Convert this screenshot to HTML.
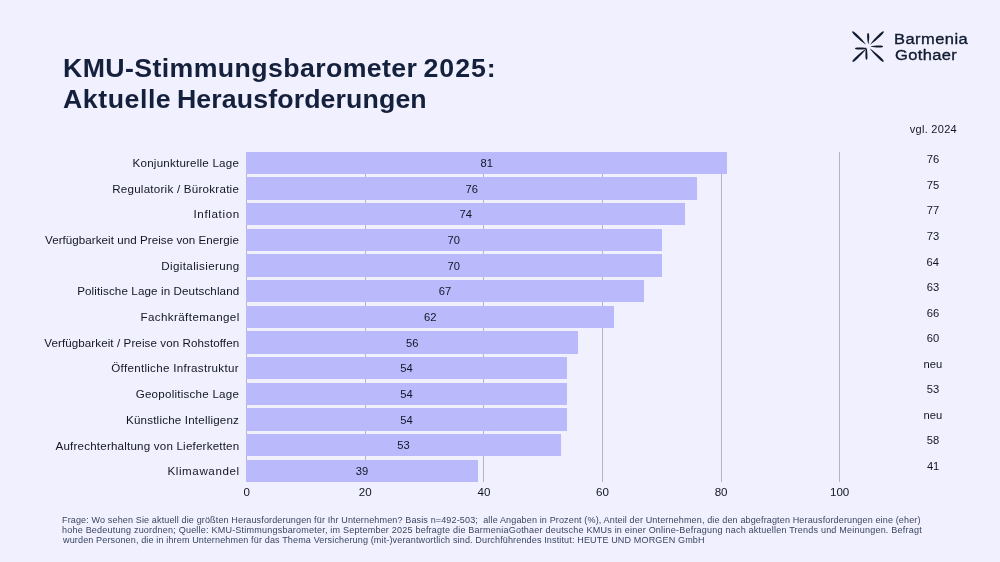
<!DOCTYPE html>
<html lang="de">
<head>
<meta charset="utf-8">
<title>KMU-Stimmungsbarometer 2025: Aktuelle Herausforderungen</title>
<style>
html,body{margin:0;padding:0;}
body{width:1000px;height:562px;background:#f0f0fe;overflow:hidden;position:relative;font-family:"Liberation Sans",Arial,sans-serif;color:#121624;}
.t{position:absolute;white-space:pre;line-height:1;margin:0;padding:0;transform-origin:0 0;}
.bar{position:absolute;background:#b9b9fb;}
.grid{position:absolute;width:1px;background:#b4b4c4;}
svg{position:absolute;overflow:visible;}
</style>
</head>
<body>
<div class="chart">
<div class="grid" style="left:246px;top:151.70px;height:330.20px"></div>
<div class="grid" style="left:365px;top:151.70px;height:330.20px"></div>
<div class="grid" style="left:483px;top:151.70px;height:330.20px"></div>
<div class="grid" style="left:602px;top:151.70px;height:330.20px"></div>
<div class="grid" style="left:721px;top:151.70px;height:330.20px"></div>
<div class="grid" style="left:839px;top:151.70px;height:330.20px"></div>
<div class="bar" style="left:246.30px;top:151.70px;width:480.49px;height:22.40px"></div>
<div class="bar" style="left:246.30px;top:177.35px;width:450.83px;height:22.40px"></div>
<div class="bar" style="left:246.30px;top:203.00px;width:438.97px;height:22.40px"></div>
<div class="bar" style="left:246.30px;top:228.65px;width:415.24px;height:22.40px"></div>
<div class="bar" style="left:246.30px;top:254.30px;width:415.24px;height:22.40px"></div>
<div class="bar" style="left:246.30px;top:279.95px;width:397.44px;height:22.40px"></div>
<div class="bar" style="left:246.30px;top:305.60px;width:367.78px;height:22.40px"></div>
<div class="bar" style="left:246.30px;top:331.25px;width:332.19px;height:22.40px"></div>
<div class="bar" style="left:246.30px;top:356.90px;width:320.33px;height:22.40px"></div>
<div class="bar" style="left:246.30px;top:382.55px;width:320.33px;height:22.40px"></div>
<div class="bar" style="left:246.30px;top:408.20px;width:320.33px;height:22.40px"></div>
<div class="bar" style="left:246.30px;top:433.85px;width:314.40px;height:22.40px"></div>
<div class="bar" style="left:246.30px;top:459.50px;width:231.35px;height:22.40px"></div>
</div>
<svg class="logo-mark" style="left:848px;top:26px" width="40" height="40" viewBox="0 0 40 40" fill="#111b30" aria-label="BarmeniaGothaer">
<path transform="translate(17.90,18.50) rotate(-136.07)" d="M0,-0.15 C4.15,-0.70 7.93,-1.15 12.84,-1.15 C16.62,-1.15 18.88,-0.86 18.88,0 C18.88,0.86 16.62,1.15 12.84,1.15 C7.93,1.15 4.15,0.70 0,0.15 Z"/>
<path transform="translate(22.20,18.50) rotate(-44.14)" d="M0,-0.15 C4.14,-0.70 7.90,-1.15 12.79,-1.15 C16.55,-1.15 18.81,-0.86 18.81,0 C18.81,0.86 16.55,1.15 12.79,1.15 C7.90,1.15 4.14,0.70 0,0.15 Z"/>
<path transform="translate(17.40,23.50) rotate(136.60)" d="M0,-0.30 C3.91,-0.77 7.46,-1.15 12.07,-1.15 C15.62,-1.15 17.76,-0.86 17.76,0 C17.76,0.86 15.62,1.15 12.07,1.15 C7.46,1.15 3.91,0.77 0,0.30 Z"/>
<path transform="translate(22.20,22.80) rotate(43.70)" d="M0,-0.15 C4.11,-0.70 7.84,-1.15 12.70,-1.15 C16.43,-1.15 18.67,-0.86 18.67,0 C18.67,0.86 16.43,1.15 12.70,1.15 C7.84,1.15 4.11,0.70 0,0.15 Z"/>
<path transform="translate(20.30,17.90) rotate(-91.05)" d="M0,-0.15 C2.40,-0.65 4.58,-1.05 7.41,-1.05 C9.59,-1.05 10.90,-0.79 10.90,0 C10.90,0.79 9.59,1.05 7.41,1.05 C4.58,1.05 2.40,0.65 0,0.15 Z"/>
<path transform="translate(22.60,20.45) rotate(0.69)" d="M0,-0.15 C2.75,-0.65 5.25,-1.05 8.50,-1.05 C11.00,-1.05 12.50,-0.79 12.50,0 C12.50,0.79 11.00,1.05 8.50,1.05 C5.25,1.05 2.75,0.65 0,0.15 Z"/>
<path transform="translate(18.30,22.60) rotate(88.98)" d="M0,-0.60 C2.46,-0.82 4.70,-1.00 7.62,-1.00 C9.86,-1.00 11.20,-0.75 11.20,0 C11.20,0.75 9.86,1.00 7.62,1.00 C4.70,1.00 2.46,0.82 0,0.60 Z"/>
<path transform="translate(18.20,22.45) rotate(-179.74)" d="M0,-0.70 C2.46,-0.86 4.70,-1.00 7.62,-1.00 C9.86,-1.00 11.20,-0.75 11.20,0 C11.20,0.75 9.86,1.00 7.62,1.00 C4.70,1.00 2.46,0.86 0,0.70 Z"/>
</svg>
<div class="t title" id="t0" style="font-size:25.7px;left:62.55px;top:55.64px;color:#14203c;font-weight:700;word-spacing:-1.250px;transform:scaleX(1.04);"><span style="letter-spacing:0.373px">KMU-Stimmungsbarometer</span> <span style="letter-spacing:0.938px">2025:</span></div>
<div class="t title" id="t1" style="font-size:25.7px;left:62.55px;top:86.74px;color:#14203c;font-weight:700;word-spacing:-1.731px;transform:scaleX(1.04);"><span style="letter-spacing:0.522px">Aktuelle</span> <span style="letter-spacing:0.114px">Herausforderungen</span></div>
<div class="t logo" id="t2" style="font-size:15.4px;left:893.85px;top:30.86px;color:#111b30;letter-spacing:0.441px;-webkit-text-stroke:0.35px;transform:scaleX(1.07);">Barmenia</div>
<div class="t logo" id="t3" style="font-size:15.4px;left:895.15px;top:47.46px;color:#111b30;letter-spacing:0.350px;-webkit-text-stroke:0.35px;transform:scaleX(1.07);">Gothaer</div>
<div class="t vgl" id="t4" style="font-size:11.0px;left:909.75px;top:123.89px;color:#121624;letter-spacing:0.281px;">vgl. 2024</div>
<div class="t lab" id="t5" style="font-size:11.6px;left:132.60px;top:157.38px;color:#121624;letter-spacing:0.208px;">Konjunkturelle Lage</div>
<div class="t val" id="t6" style="font-size:11.2px;left:480.43px;top:157.72px;color:#121624;">81</div>
<div class="t prev" id="t7" style="font-size:11.2px;left:926.75px;top:153.72px;color:#121624;">76</div>
<div class="t lab" id="t8" style="font-size:11.6px;left:112.15px;top:183.38px;color:#121624;letter-spacing:0.243px;">Regulatorik / Bürokratie</div>
<div class="t val" id="t9" style="font-size:11.2px;left:465.49px;top:183.72px;color:#121624;">76</div>
<div class="t prev" id="t10" style="font-size:11.2px;left:926.75px;top:179.72px;color:#121624;">75</div>
<div class="t lab" id="t11" style="font-size:11.6px;left:193.45px;top:208.38px;color:#121624;letter-spacing:0.650px;">Inflation</div>
<div class="t val" id="t12" style="font-size:11.2px;left:459.51px;top:208.72px;color:#121624;">74</div>
<div class="t prev" id="t13" style="font-size:11.2px;left:926.75px;top:204.72px;color:#121624;">77</div>
<div class="t lab" id="t14" style="font-size:11.6px;left:45.00px;top:234.38px;color:#121624;letter-spacing:0.051px;">Verfügbarkeit und Preise von Energie</div>
<div class="t val" id="t15" style="font-size:11.2px;left:447.56px;top:234.72px;color:#121624;">70</div>
<div class="t prev" id="t16" style="font-size:11.2px;left:926.75px;top:230.72px;color:#121624;">73</div>
<div class="t lab" id="t17" style="font-size:11.6px;left:161.30px;top:260.38px;color:#121624;letter-spacing:0.368px;">Digitalisierung</div>
<div class="t val" id="t18" style="font-size:11.2px;left:447.56px;top:260.72px;color:#121624;">70</div>
<div class="t prev" id="t19" style="font-size:11.2px;left:926.62px;top:256.72px;color:#121624;">64</div>
<div class="t lab" id="t20" style="font-size:11.6px;left:77.20px;top:285.38px;color:#121624;letter-spacing:0.119px;">Politische Lage in Deutschland</div>
<div class="t val" id="t21" style="font-size:11.2px;left:438.84px;top:285.72px;color:#121624;">67</div>
<div class="t prev" id="t22" style="font-size:11.2px;left:926.75px;top:281.72px;color:#121624;">63</div>
<div class="t lab" id="t23" style="font-size:11.6px;left:140.40px;top:311.38px;color:#121624;letter-spacing:0.407px;">Fachkräftemangel</div>
<div class="t val" id="t24" style="font-size:11.2px;left:424.02px;top:311.72px;color:#121624;">62</div>
<div class="t prev" id="t25" style="font-size:11.2px;left:926.75px;top:307.72px;color:#121624;">66</div>
<div class="t lab" id="t26" style="font-size:11.6px;left:44.25px;top:337.38px;color:#121624;letter-spacing:0.085px;">Verfügbarkeit / Preise von Rohstoffen</div>
<div class="t val" id="t27" style="font-size:11.2px;left:406.08px;top:337.72px;color:#121624;">56</div>
<div class="t prev" id="t28" style="font-size:11.2px;left:926.75px;top:332.72px;color:#121624;">60</div>
<div class="t lab" id="t29" style="font-size:11.6px;left:111.30px;top:362.38px;color:#121624;letter-spacing:0.288px;">Öffentliche Infrastruktur</div>
<div class="t val" id="t30" style="font-size:11.2px;left:400.23px;top:362.72px;color:#121624;">54</div>
<div class="t prev" id="t31" style="font-size:11.2px;left:923.62px;top:358.72px;color:#121624;">neu</div>
<div class="t lab" id="t32" style="font-size:11.6px;left:135.70px;top:388.38px;color:#121624;letter-spacing:0.232px;">Geopolitische Lage</div>
<div class="t val" id="t33" style="font-size:11.2px;left:400.23px;top:388.72px;color:#121624;">54</div>
<div class="t prev" id="t34" style="font-size:11.2px;left:926.75px;top:383.72px;color:#121624;">53</div>
<div class="t lab" id="t35" style="font-size:11.6px;left:126.05px;top:414.38px;color:#121624;letter-spacing:0.186px;">Künstliche Intelligenz</div>
<div class="t val" id="t36" style="font-size:11.2px;left:400.23px;top:414.72px;color:#121624;">54</div>
<div class="t prev" id="t37" style="font-size:11.2px;left:923.62px;top:409.72px;color:#121624;">neu</div>
<div class="t lab" id="t38" style="font-size:11.6px;left:55.55px;top:440.38px;color:#121624;letter-spacing:0.194px;">Aufrechterhaltung von Lieferketten</div>
<div class="t val" id="t39" style="font-size:11.2px;left:397.24px;top:439.72px;color:#121624;">53</div>
<div class="t prev" id="t40" style="font-size:11.2px;left:926.75px;top:434.72px;color:#121624;">58</div>
<div class="t lab" id="t41" style="font-size:11.6px;left:167.45px;top:465.38px;color:#121624;letter-spacing:0.595px;">Klimawandel</div>
<div class="t val" id="t42" style="font-size:11.2px;left:355.77px;top:465.72px;color:#121624;">39</div>
<div class="t prev" id="t43" style="font-size:11.2px;left:926.88px;top:460.72px;color:#121624;">41</div>
<div class="t ax" id="t44" style="font-size:11.6px;left:243.40px;top:486.38px;color:#121624;">0</div>
<div class="t ax" id="t45" style="font-size:11.6px;left:358.71px;top:486.38px;color:#121624;">20</div>
<div class="t ax" id="t46" style="font-size:11.6px;left:477.52px;top:486.38px;color:#121624;">40</div>
<div class="t ax" id="t47" style="font-size:11.6px;left:596.08px;top:486.38px;color:#121624;">60</div>
<div class="t ax" id="t48" style="font-size:11.6px;left:714.64px;top:486.38px;color:#121624;">80</div>
<div class="t ax" id="t49" style="font-size:11.6px;left:829.95px;top:486.38px;color:#121624;">100</div>
<div class="t foot" id="t50" style="font-size:8.7px;left:62.15px;top:516.14px;color:#3a4560;letter-spacing:0.127px;transform:scaleX(1.04);">Frage: Wo sehen Sie aktuell die größten Herausforderungen für Ihr Unternehmen? Basis n=492-503;  alle Angaben in Prozent (%), Anteil der Unternehmen, die den abgefragten Herausforderungen eine (eher)</div>
<div class="t foot" id="t51" style="font-size:8.7px;left:62.15px;top:526.29px;color:#3a4560;letter-spacing:0.198px;transform:scaleX(1.04);">hohe Bedeutung zuordnen; Quelle: KMU-Stimmungsbarometer, im September 2025 befragte die BarmeniaGothaer deutsche KMUs in einer Online-Befragung nach aktuellen Trends und Meinungen. Befragt</div>
<div class="t foot" id="t52" style="font-size:8.7px;left:63.40px;top:536.44px;color:#3a4560;letter-spacing:0.133px;transform:scaleX(1.04);">wurden Personen, die in ihrem Unternehmen für das Thema Versicherung (mit-)verantwortlich sind. Durchführendes Institut: HEUTE UND MORGEN GmbH</div>
</body>
</html>
